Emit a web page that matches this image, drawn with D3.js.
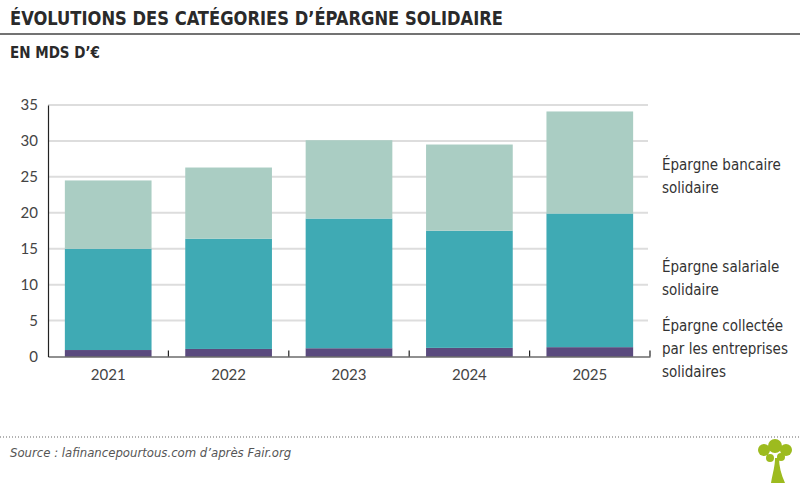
<!DOCTYPE html>
<html>
  <head>
    <meta charset="utf-8">
    <style>
      body { margin: 0; background: #fff; }
      svg text { fill: #333; }
      .title { font-family: "DejaVu Sans Condensed", "DejaVu Sans", sans-serif; font-stretch: condensed; font-weight: bold; font-size: 19px; fill: #2a2a2a; }
      .sub { font-family: "DejaVu Sans Condensed", sans-serif; font-stretch: condensed; font-weight: bold; font-size: 15px; fill: #2a2a2a; }
      .tick text { font-family: Lato, "DejaVu Sans", sans-serif; font-size: 15px; fill: #444; }
      .legend { font-family: "DejaVu Sans Condensed", sans-serif; font-stretch: condensed; font-size: 15px; }
      .source { font-family: "DejaVu Sans Condensed", sans-serif; font-stretch: condensed; font-style: italic; font-size: 13px; fill: #555; }
    </style>
    <script src="https://d3js.org/d3.v7.min.js"></script>
  </head>

  <body>
    <svg width="800" height="483"></svg>

    <script>
      var years = ["2021", "2022", "2023", "2024", "2025"];
      var entreprises = [0.9, 1.05, 1.15, 1.2, 1.3];
      var salariale = [14.1, 15.35, 18.05, 16.3, 18.6];
      var bancaire = [9.5, 9.9, 10.9, 12.0, 14.2];
      var yTicks = [0, 5, 10, 15, 20, 25, 30, 35];
      var seriesNames = ["entreprises", "salariale", "bancaire"];
      var colors = ["#5a4a7e", "#3faab4", "#aacdc3"];

      var svg = d3.select("svg");
      var plotLeft = 48, plotRight = 650, plotTop = 105, plotBottom = 356.5;

      var rows = years.map(function (y, i) {
        return { year: y, entreprises: entreprises[i], salariale: salariale[i], bancaire: bancaire[i] };
      });

      var x = d3.scaleBand().domain(years).range([plotLeft, plotRight]).paddingInner(0.28).paddingOuter(0.14);
      var xb = d3.scaleBand().domain(years).range([plotLeft, plotRight]);
      var y = d3.scaleLinear().domain([0, 35]).range([plotBottom, plotTop]);

      // title
      svg.append("text").attr("class", "title").attr("x", 10).attr("y", 25)
        .attr("textLength", 493).attr("lengthAdjust", "spacingAndGlyphs")
        .text("ÉVOLUTIONS DES CATÉGORIES D’ÉPARGNE SOLIDAIRE");
      svg.append("line").attr("x1", 0).attr("x2", 800).attr("y1", 34).attr("y2", 34)
        .attr("stroke", "#444").attr("stroke-width", 1.5);
      svg.append("text").attr("class", "sub").attr("x", 10).attr("y", 58).text("EN MDS D’€");

      // grid
      svg.append("g").selectAll("line").data(yTicks.slice(1)).enter().append("line")
        .attr("x1", plotLeft).attr("x2", plotRight - 2)
        .attr("y1", function (d) { return y(d); }).attr("y2", function (d) { return y(d); })
        .attr("stroke", "#ddd").attr("stroke-width", 2);

      // bars
      var stack = d3.stack().keys(seriesNames)(rows);
      svg.append("g").selectAll("g").data(stack).enter().append("g")
        .attr("fill", function (d, i) { return colors[i]; })
        .selectAll("rect").data(function (d) { return d; }).enter().append("rect")
        .attr("x", function (d) { return x(d.data.year); })
        .attr("width", x.bandwidth())
        .attr("y", function (d) { return y(d[1]); })
        .attr("height", function (d) { return y(d[0]) - y(d[1]); });

      // y axis
      var ya = svg.append("g").attr("transform", "translate(" + plotLeft + ",0)")
        .call(d3.axisLeft(y).tickValues(yTicks).tickSize(0).tickPadding(10));
      ya.select(".domain").attr("stroke", "#222").attr("stroke-width", 1.2);

      // x axis
      var xa = svg.append("g").attr("transform", "translate(0," + plotBottom + ")")
        .call(d3.axisBottom(x).tickSize(0).tickPadding(10));
      xa.select(".domain").attr("stroke", "#222").attr("stroke-width", 1.2);
      xa.selectAll(".tick text").attr("dy", "0.9em");
      svg.append("g").selectAll("line").data(years).enter().append("line")
        .attr("x1", function (d) { return xb(d) + xb.bandwidth(); })
        .attr("x2", function (d) { return xb(d) + xb.bandwidth(); })
        .attr("y1", plotBottom).attr("y2", plotBottom - 6)
        .attr("stroke", "#222").attr("stroke-width", 1.2);

      // legend
      var legend = [
        { lines: ["Épargne bancaire", "solidaire"], y: 170 },
        { lines: ["Épargne salariale", "solidaire"], y: 272 },
        { lines: ["Épargne collectée", "par les entreprises", "solidaires"], y: 331 }
      ];
      legend.forEach(function (l) {
        var t = svg.append("text").attr("class", "legend").attr("x", 662).attr("y", l.y);
        l.lines.forEach(function (s, i) {
          t.append("tspan").attr("x", 662).attr("dy", i ? 23 : 0).text(s);
        });
      });

      // footer
      svg.append("line").attr("x1", 0).attr("x2", 800).attr("y1", 437).attr("y2", 437)
        .attr("stroke", "#666").attr("stroke-width", 1.2).attr("stroke-dasharray", "1,2");
      svg.append("text").attr("class", "source").attr("x", 10).attr("y", 457)
        .text("Source : lafinancepourtous.com d’après Fair.org");

      // tree logo
      var logo = svg.append("g").attr("fill", "#9dbb1f");
      logo.append("path").attr("d", "M771,483 C773,472 775,466 775,458 L779,458 C779,466 781,474 785,483 Z");
      [[764, 450, 6], [775, 446, 7], [786, 450, 6], [770, 458, 4], [781, 457, 4]].forEach(function (c) {
        logo.append("circle").attr("cx", c[0]).attr("cy", c[1]).attr("r", c[2]);
      });
    </script>
  </body>
</html>
